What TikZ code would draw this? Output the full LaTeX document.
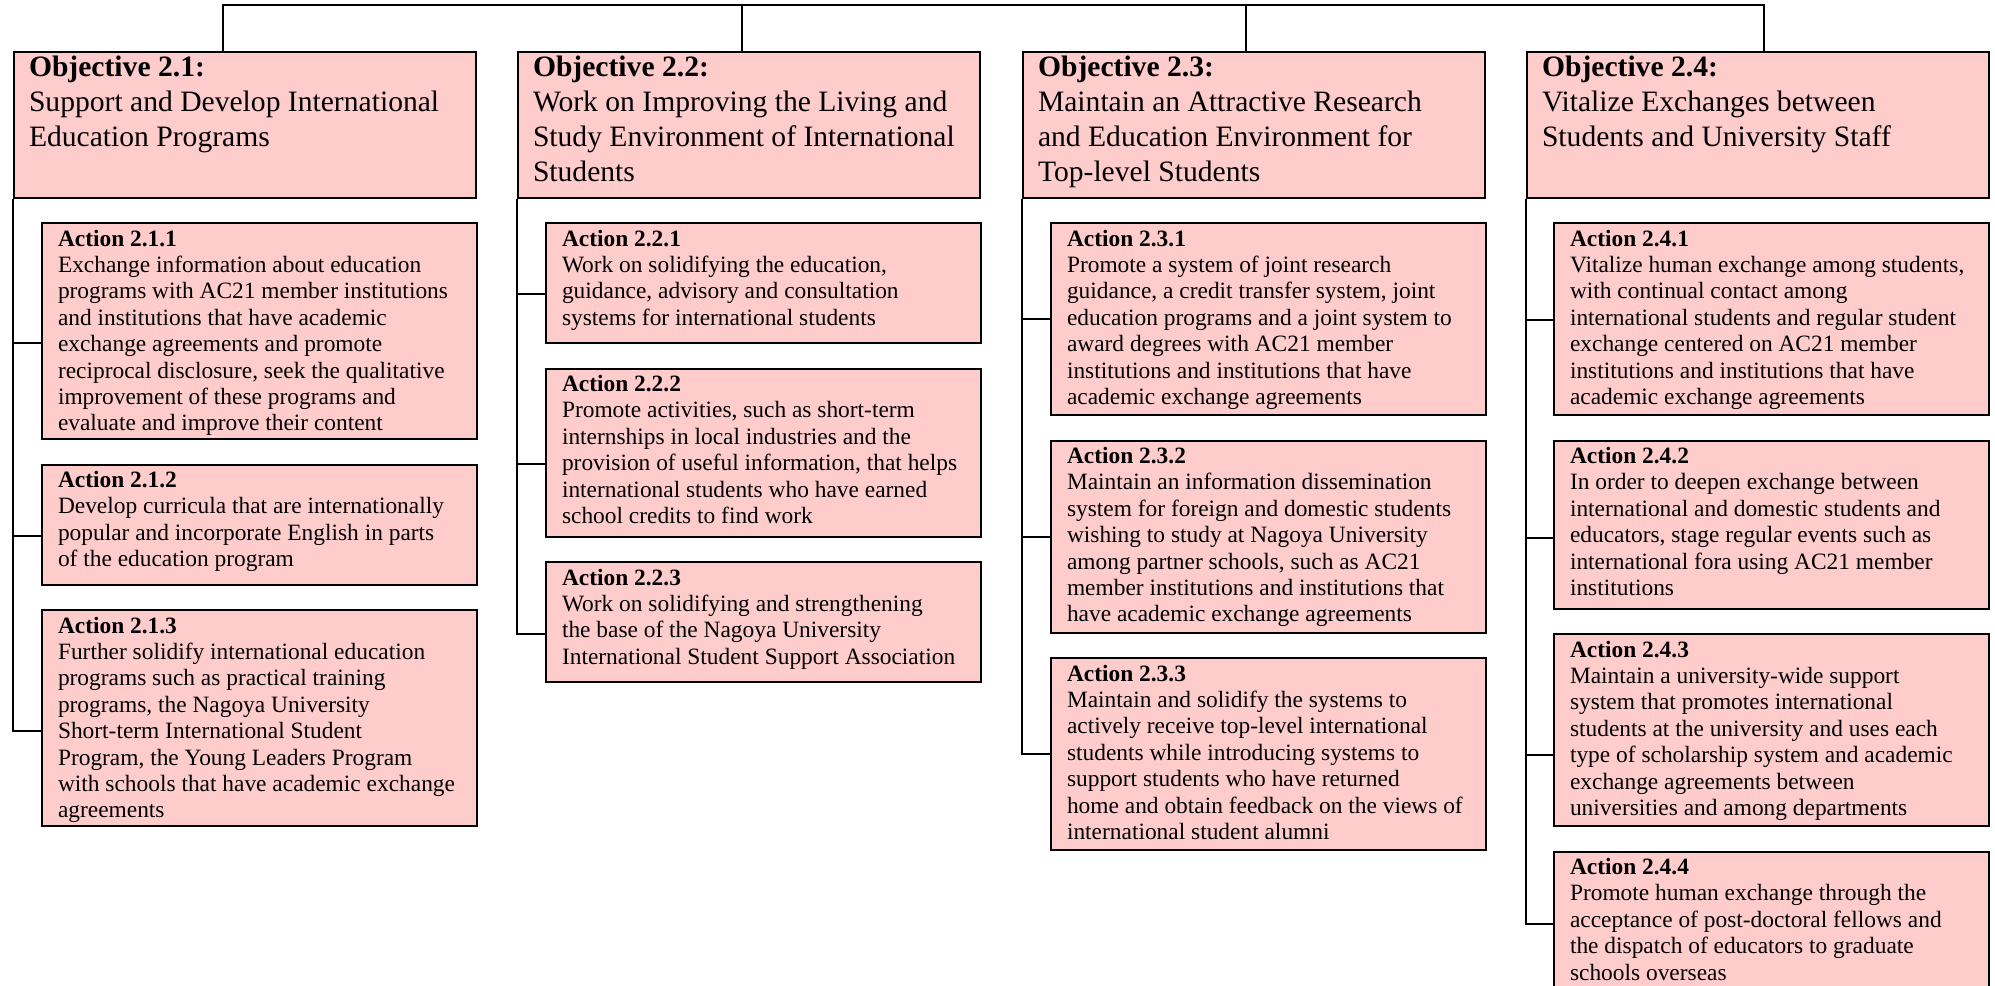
\documentclass[tikz,border=0pt]{standalone}
\usepackage{fontspec}
\setmainfont{Liberation Serif}
\usepackage{tikz}
\usetikzlibrary{positioning}

\definecolor{boxpink}{RGB}{255,204,204}

\begin{document}
\begin{tikzpicture}[x=0.5pt,y=-0.5pt,line width=1pt,
    objbox/.style={draw, fill=boxpink, anchor=north west, align=flush left,
        text width=216pt, inner xsep=7.5pt, inner ysep=0pt,
        text height=12pt, text depth=61pt,
        font=\fontsize{14.8pt}{17.5pt}\selectfont},
    actbox/.style={draw, fill=boxpink, align=flush left,
        text width=201.5pt, inner xsep=8pt, inner ysep=0pt,
        text height=11.5pt, font=\fontsize{11.7pt}{13.2pt}\selectfont},
    h4/.style={actbox, text depth=48.5pt},
    h5/.style={actbox, text depth=60.5pt},
    h6/.style={actbox, text depth=72.5pt},
    h7/.style={actbox, text depth=84.5pt},
    h8/.style={actbox, text depth=96.5pt}]

\useasboundingbox (0,0) rectangle (1995,985);

\node [objbox] (o21) at (13,51)   {\textbf{Objective 2.1:}\\Support and Develop International\\Education Programs};
\node [objbox] (o22) at (517,51)  {\textbf{Objective 2.2:}\\Work on Improving the Living and\\Study Environment of International\\Students};
\node [objbox] (o23) at (1022,51) {\textbf{Objective 2.3:}\\Maintain an Attractive Research\\and Education Environment for\\Top-level Students};
\node [objbox] (o24) at (1526,51) {\textbf{Objective 2.4:}\\Vitalize Exchanges between\\Students and University Staff};

% column 2.1
\node [h8, anchor=north west] (a211) at (41,222) {\textbf{Action 2.1.1}\\Exchange information about education\\programs with AC21 member institutions\\and institutions that have academic\\exchange agreements and promote\\reciprocal disclosure, seek the qualitative\\improvement of these programs and\\evaluate and improve their content};
\node [h4, below=11.75pt of a211] (a212) {\textbf{Action 2.1.2}\\Develop curricula that are internationally\\popular and incorporate English in parts\\of the education program};
\node [h8, below=11.75pt of a212] (a213) {\textbf{Action 2.1.3}\\Further solidify international education\\programs such as practical training\\programs, the Nagoya University\\Short-term International Student\\Program, the Young Leaders Program\\with schools that have academic exchange\\agreements};

% column 2.2
\node [h4, anchor=north west] (a221) at (545,222) {\textbf{Action 2.2.1}\\Work on solidifying the education,\\guidance, advisory and consultation\\systems for international students};
\node [h6, below=11.75pt of a221] (a222) {\textbf{Action 2.2.2}\\Promote activities, such as short-term\\internships in local industries and the\\provision of useful information, that helps\\international students who have earned\\school credits to find work};
\node [h4, below=11.75pt of a222] (a223) {\textbf{Action 2.2.3}\\Work on solidifying and strengthening\\the base of the Nagoya University\\International Student Support Association};

% column 2.3
\node [h7, anchor=north west] (a231) at (1050,222) {\textbf{Action 2.3.1}\\Promote a system of joint research\\guidance, a credit transfer system, joint\\education programs and a joint system to\\award degrees with AC21 member\\institutions and institutions that have\\academic exchange agreements};
\node [h7, below=11.75pt of a231] (a232) {\textbf{Action 2.3.2}\\Maintain an information dissemination\\system for foreign and domestic students\\wishing to study at Nagoya University\\among partner schools, such as AC21\\member institutions and institutions that\\have academic exchange agreements};
\node [h7, below=11.75pt of a232] (a233) {\textbf{Action 2.3.3}\\Maintain and solidify the systems to\\actively receive top-level international\\students while introducing systems to\\support students who have returned\\home and obtain feedback on the views of\\international student alumni};

% column 2.4
\node [h7, anchor=north west] (a241) at (1553,222) {\textbf{Action 2.4.1}\\Vitalize human exchange among students,\\with continual contact among\\international students and regular student\\exchange centered on AC21 member\\institutions and institutions that have\\academic exchange agreements};
\node [h6, below=11.75pt of a241] (a242) {\textbf{Action 2.4.2}\\In order to deepen exchange between\\international and domestic students and\\educators, stage regular events such as\\international fora using AC21 member\\institutions};
\node [h7, below=11.75pt of a242] (a243) {\textbf{Action 2.4.3}\\Maintain a university-wide support\\system that promotes international\\students at the university and uses each\\type of scholarship system and academic\\exchange agreements between\\universities and among departments};
\node [h5, below=11.75pt of a243] (a244) {\textbf{Action 2.4.4}\\Promote human exchange through the\\acceptance of post-doctoral fellows and\\the dispatch of educators to graduate\\schools overseas};

% top bar
\coordinate (top1) at (223,5);
\coordinate (top2) at (742,5);
\coordinate (top3) at (1246,5);
\coordinate (top4) at (1764,5);
\draw (top1 |- o21.north) -- (top1) -- (top4) -- (top4 |- o24.north);
\draw (top2) -- (top2 |- o22.north);
\draw (top3) -- (top3 |- o23.north);

% ticks to the actions
\foreach \a/\o/\s in {211/21/-6, 212/21/-5.5, 213/21/-6.5,
                      221/22/-5.5, 222/22/-5.75, 223/22/-6,
                      231/23/0, 232/23/0, 233/23/0,
                      241/24/-0.5, 242/24/-6.5, 243/24/-12.5, 244/24/0}{
    \coordinate (c\a) at ([yshift=\s pt]a\a.west);
    \draw (c\a) -- (c\a -| o\o.west);
}

\draw (o21.south west) |- (c213);
\draw (o22.south west) |- (c223);
\draw (o23.south west) |- (c233);
\draw (o24.south west) |- (c244);

\end{tikzpicture}
\end{document}
